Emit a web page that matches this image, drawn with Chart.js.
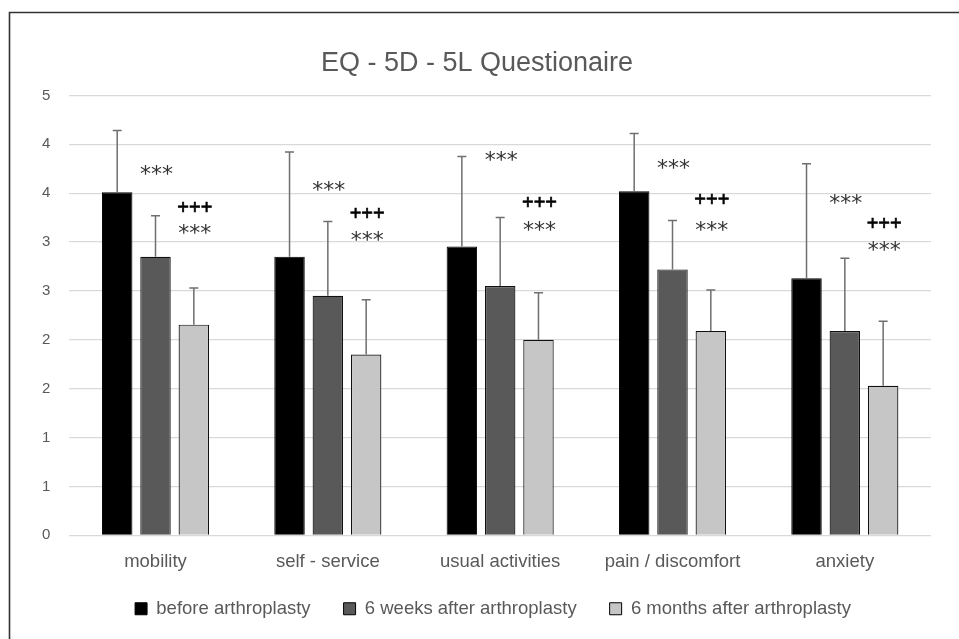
<!DOCTYPE html>
<html>
<head>
<meta charset="utf-8">
<script src="https://cdn.jsdelivr.net/npm/chart.js@4"></script>
<style>
  html, body { margin: 0; padding: 0; background: #fff; }
  #wrap { position: relative; width: 959px; height: 639px; }
  canvas { display: block; }
</style>
</head>
<body>
<div id="wrap"><canvas id="c" width="959" height="639"></canvas></div>
<script>
// ---- data ----
const categories = ['mobility', 'self - service', 'usual activities', 'pain / discomfort', 'anxiety'];
const seriesNames = ['before arthroplasty', '6 weeks after arthroplasty', '6 months after arthroplasty'];
const beforeMean = [3.51, 2.85, 2.955, 3.52, 2.63];
const beforeSD   = [0.63, 1.07, 0.92, 0.59, 1.17];
const weeksMean  = [2.85, 2.45, 2.55, 2.72, 2.09];
const weeksSD    = [0.42, 0.76, 0.70, 0.50, 0.745];
const monthsMean = [2.155, 1.85, 2.00, 2.09, 1.53];
const monthsSD   = [0.375, 0.56, 0.48, 0.42, 0.66];
const yTickValues = [0, 0.5, 1, 1.5, 2, 2.5, 3, 3.5, 4, 4.5];
// significance marks: category index, dataset index, value level, text
const markCategory = [0, 0, 0, 1, 1, 1, 2, 2, 2, 3, 3, 3, 4, 4, 4];
const markDataset  = [1, 2, 2, 1, 2, 2, 1, 2, 2, 1, 2, 2, 1, 2, 2];
const markLevel    = [3.726, 3.357, 3.119, 3.562, 3.293, 3.048, 3.869, 3.409, 3.147, 3.784, 3.436, 3.147, 3.426, 3.194, 2.948];
const markText     = ['***', '+++', '***', '***', '+++', '***', '***', '+++', '***', '***', '+++', '***', '***', '+++', '***'];

const sdByDataset = [beforeSD, weeksSD, monthsSD];
const FONT = "'Liberation Sans', Arial, sans-serif";

const framePlugin = {
  id: 'frame',
  beforeDraw(chart) {
    const ctx = chart.ctx;
    ctx.save();
    ctx.fillStyle = '#fff';
    ctx.fillRect(0, 0, chart.width, chart.height);
    ctx.strokeStyle = '#333';
    ctx.lineWidth = 1.6;
    ctx.beginPath();
    ctx.moveTo(9.5, chart.height);
    ctx.lineTo(9.5, 12.5);
    ctx.lineTo(chart.width, 12.5);
    ctx.stroke();
    ctx.restore();
  }
};

const legendShift = {
  id: 'legendShift',
  beforeLayout(chart) {
    const lg = chart.legend;
    if (lg && !lg._fitWrapped) {
      const orig = lg.fit;
      lg.fit = function () { orig.call(this); this.height -= 15; };
      lg._fitWrapped = true;
    }
  },
  afterLayout(chart) {
    const lg = chart.legend;
    if (lg) {
      lg.left += 16;
      lg.right += 16;
      lg.top -= 23;
      lg.bottom = chart.height;
    }
  }
};

const errorPlugin = {
  id: 'errorbars',
  afterDatasetsDraw(chart) {
    const ctx = chart.ctx;
    const y = chart.scales.y;
    ctx.save();
    ctx.strokeStyle = '#6f6f6f';
    ctx.lineWidth = 1.5;
    chart.data.datasets.forEach((ds, di) => {
      const meta = chart.getDatasetMeta(di);
      meta.data.forEach((el, i) => {
        const top = y.getPixelForValue(ds.data[i] + sdByDataset[di][i]);
        const base = el.y;
        ctx.beginPath();
        ctx.moveTo(el.x, base);
        ctx.lineTo(el.x, top);
        ctx.moveTo(el.x - 4.5, top);
        ctx.lineTo(el.x + 4.5, top);
        ctx.stroke();
      });
    });
    // significance marks
    ctx.textAlign = 'center';
    ctx.textBaseline = 'middle';
    markText.forEach((t, k) => {
      const el = chart.getDatasetMeta(markDataset[k]).data[markCategory[k]];
      const py = y.getPixelForValue(markLevel[k]);
      if (t === '***') {
        ctx.font = "22px 'DejaVu Sans', sans-serif";
        ctx.fillStyle = '#333';
        ctx.fillText(t, el.x + 1, py + 4);
      } else {
        ctx.font = "20px " + FONT;
        ctx.fillStyle = '#000';
        ctx.lineWidth = 0.6;
        ctx.strokeStyle = '#000';
        ctx.fillText(t, el.x + 1, py + 1);
        ctx.strokeText(t, el.x + 1, py + 1);
      }
    });
    ctx.restore();
  }
};

new Chart(document.getElementById('c'), {
  type: 'bar',
  data: {
    labels: categories,
    datasets: [
      { label: seriesNames[0], data: beforeMean, backgroundColor: '#000000', borderColor: '#000000', borderWidth: 1 },
      { label: seriesNames[1], data: weeksMean, backgroundColor: '#595959', borderColor: '#111111', borderWidth: 1.2 },
      { label: seriesNames[2], data: monthsMean, backgroundColor: '#c6c6c6', borderColor: '#111111', borderWidth: 1.2 }
    ]
  },
  options: {
    responsive: false,
    animation: false,
    devicePixelRatio: 1,
    layout: { padding: { top: 47, left: 23, right: 28, bottom: 3 } },
    datasets: { bar: { categoryPercentage: 0.667, barPercentage: 0.795 } },
    plugins: {
      tooltip: { enabled: false },
      title: {
        display: true,
        text: 'EQ - 5D - 5L Questionaire',
        color: '#595959',
        font: { family: FONT, size: 27, weight: 'normal' },
        padding: { top: 0, bottom: 16 }
      },
      legend: {
        display: true,
        position: 'bottom',
        labels: {
          color: '#595959',
          font: { family: FONT, size: 18.5 },
          boxWidth: 12,
          boxHeight: 12,
          padding: 33,
          generateLabels(chart) {
            return chart.data.datasets.map((ds, i) => ({
              text: ds.label,
              fillStyle: ds.backgroundColor,
              strokeStyle: '#000',
              lineWidth: 1,
              fontColor: '#595959',
              datasetIndex: i,
              hidden: false
            }));
          }
        }
      }
    },
    scales: {
      x: {
        grid: { display: false, drawTicks: false },
        border: { display: false },
        ticks: { color: '#595959', font: { family: FONT, size: 18.5 }, padding: 16 }
      },
      y: {
        min: 0,
        max: 4.5,
        afterBuildTicks(scale) { scale.ticks = yTickValues.map(v => ({ value: v })); },
        grid: { color: '#d9d9d9', lineWidth: 1.2, drawTicks: false },
        border: { display: false },
        ticks: {
          color: '#595959',
          font: { family: FONT, size: 15 },
          padding: 19,
          callback: (v) => Math.round(v).toString()
        }
      }
    }
  },
  plugins: [framePlugin, legendShift, errorPlugin]
});
</script>
</body>
</html>
